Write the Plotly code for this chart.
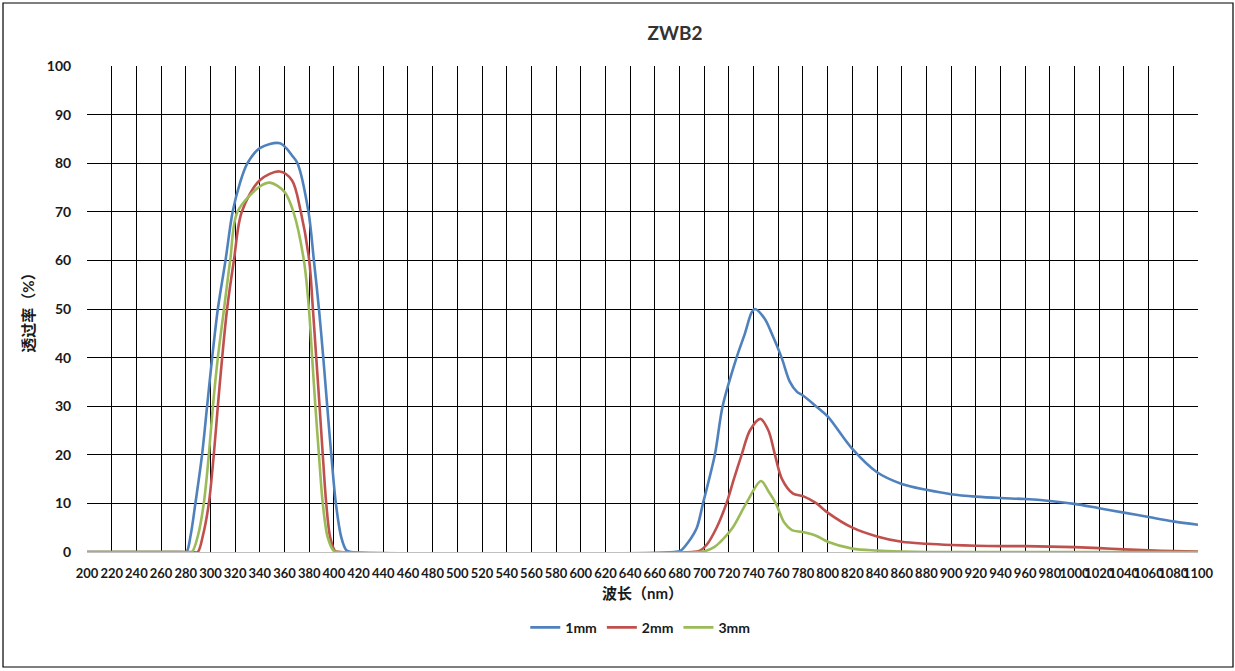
import plotly.graph_objects as go

# 1mm (blue)
wl_1mm = [200, 276, 280.5, 284, 287.8, 293.2, 297.3, 301.4, 306, 312.2, 318, 324, 330, 340, 356.4,
          367, 370.5, 379.4, 383.8, 387.9, 391.4, 394.6, 397.9, 401.6, 406, 410, 414, 676,
          681, 687, 694, 699, 708.6, 714.9, 726.2, 733, 738.4, 741, 749, 754.6, 762.7,
          769.4, 775, 780, 791, 800, 820, 840, 860, 880, 900, 920, 940, 960, 980, 1000, 1020,
          1040, 1060, 1080, 1100]
t_1mm = [0, 0, 0, 3.5, 10, 20, 30, 40, 50, 60, 70, 76, 80, 83.1, 84.1,
         81.3, 80, 70, 60, 50, 40, 30, 20, 10, 3, 0.4, 0, 0,
         0.3, 2, 5, 10, 20, 30, 40, 45, 49.3, 50, 48, 45, 40,
         35, 33, 32.2, 29.9, 27.9, 21.2, 16.4, 14.0, 12.8, 11.9, 11.4, 11.1, 10.9, 10.5, 9.9, 9.0,
         8.1, 7.2, 6.3, 5.6]

# 2mm (red)
wl_2mm = [200, 285, 289.7, 294, 298.7, 302.7, 306, 309.5, 313.5, 319, 325.4, 340, 356,
          366, 373.2, 380, 383, 385.7, 388.4, 391, 393.8, 397, 401, 405, 690,
          696, 702, 710, 718, 724, 730.3, 737, 745.5, 752, 757.3, 763, 772, 780, 791,
          800, 820, 840, 860, 880, 900, 920, 940, 960, 980, 1000, 1020, 1040, 1060, 1080, 1100]
t_2mm = [0, 0, 0, 3.5, 10, 20, 30, 40, 50, 60, 70, 76.5, 78.3,
         76.5, 70, 60, 50, 40, 30, 20, 10, 3, 0.2, 0, 0,
         0.2, 1.5, 5, 10, 15, 20, 25, 27.4, 25, 20, 15, 12, 11.5, 10,
         8.1, 5.0, 3.2, 2.1, 1.7, 1.45, 1.3, 1.2, 1.2, 1.1, 1.0, 0.8, 0.55, 0.35, 0.2, 0.1]

# 3mm (green)
wl_3mm = [200, 281, 285, 290, 294.6, 298.7, 302, 306, 311, 316, 321.9, 340, 348.3, 360,
          367.2, 375.7, 379.8, 382.4, 385, 387.9, 391, 395, 400, 404, 696,
          701, 708, 714.7, 723, 734, 746, 752, 758, 765, 771, 779.7, 791, 800, 820, 840,
          860, 880, 1100]
t_3mm = [0, 0, 0, 3.5, 10, 20, 30, 40, 50, 60, 70, 75.2, 76, 74.1,
         70, 60, 50, 40, 30, 20, 10, 3, 0.2, 0, 0,
         0.2, 1, 2.5, 5, 10, 14.6, 12.5, 10, 6, 4.5, 4.1, 3.3, 2.1, 0.7, 0.3,
         0.1, 0, 0]

series = [
    ("1mm", wl_1mm, t_1mm, "#4F81BD"),
    ("2mm", wl_2mm, t_2mm, "#C0504D"),
    ("3mm", wl_3mm, t_3mm, "#9BBB59"),
]

x_ticks = list(range(200, 1101, 20))
y_ticks = list(range(0, 101, 10))

FONT = "Lato, Noto Sans CJK SC, sans-serif"

fig = go.Figure()
for name, xs, ys, color in series:
    fig.add_trace(go.Scatter(
        x=xs, y=ys, name=name, mode="lines",
        line=dict(color=color, width=2.6, shape="spline", smoothing=0.9),
    ))

# outer chart border
fig.add_shape(type="rect", xref="paper", yref="paper",
              x0=-0.0756, x1=1.0315, y0=-0.2366, y1=1.1296,
              line=dict(color="black", width=1.2), layer="below")

fig.update_layout(
    width=1235, height=671,
    margin=dict(l=87, r=37, t=66, b=119),
    paper_bgcolor="white", plot_bgcolor="white",
    font=dict(family=FONT, size=13, color="#1a1a1a", weight="bold"),
    title=dict(text="ZWB2", x=675 / 1235, xanchor="center",
               y=1 - 33 / 671, yanchor="middle",
               font=dict(family=FONT, size=19, color="#333333", weight="bold")),
    legend=dict(orientation="h", x=0.498, xanchor="center", y=-0.156, yanchor="middle",
                font=dict(family=FONT, size=14, color="#1a1a1a", weight="bold"),
                itemwidth=30),
    showlegend=True,
)

fig.update_xaxes(
    range=[200, 1100], tickvals=x_ticks,
    tickangle=0, showgrid=True, gridcolor="black", gridwidth=1, zeroline=False,
    ticks="outside", ticklen=9, tickcolor="rgba(0,0,0,0)",
    tickfont=dict(family=FONT, size=13, weight="bold"),
    title=dict(text="波长（nm）", standoff=8,
               font=dict(family=FONT, size=15, weight="bold")),
    automargin=False, fixedrange=True,
)
fig.update_yaxes(
    range=[0, 100], tickvals=y_ticks,
    showgrid=True, gridcolor="black", gridwidth=1,
    zeroline=True, zerolinecolor="#c0c0c0", zerolinewidth=1,
    ticks="outside", ticklen=12, tickcolor="rgba(0,0,0,0)",
    tickfont=dict(family=FONT, size=14, weight="bold"),
    title=dict(text="透过率（%）", standoff=8,
               font=dict(family=FONT, size=15, weight="bold")),
    automargin=False, fixedrange=True,
)

fig.write_html("out.html", config={"displayModeBar": False},
               post_script="document.body.style.margin='0';")
